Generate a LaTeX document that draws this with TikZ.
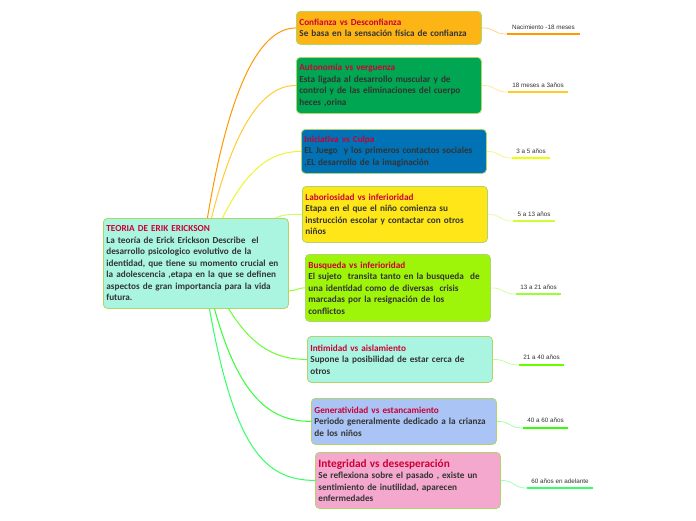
\documentclass[tikz,border=0pt]{standalone}
\usepackage{fontspec}
\setmainfont{Carlito}
\newfontfamily\labfont{Liberation Sans}
\usetikzlibrary{calc}
\definecolor{titlec}{HTML}{CC0033}
\definecolor{bodyc}{HTML}{333333}
\definecolor{borderc}{HTML}{B0D46A}
\definecolor{f1}{HTML}{FDB515}
\definecolor{f2}{HTML}{00A651}
\definecolor{f3}{HTML}{0072B5}
\definecolor{f4}{HTML}{FFE619}
\definecolor{f5}{HTML}{9EF50A}
\definecolor{f6}{HTML}{AAF5E2}
\definecolor{f7}{HTML}{A9C4F5}
\definecolor{f8}{HTML}{F5A8CE}
\definecolor{fr}{HTML}{AAF5E0}
\definecolor{c1}{HTML}{FF9900}
\definecolor{c2}{HTML}{FFCC33}
\definecolor{c3}{HTML}{EEF530}
\definecolor{c4}{HTML}{CCFF66}
\definecolor{c5}{HTML}{99FF33}
\definecolor{c6}{HTML}{66FF33}
\definecolor{c7}{HTML}{33FF33}
\definecolor{c8}{HTML}{33FF66}
\definecolor{r1}{HTML}{FFCC80}
\definecolor{r2}{HTML}{FFE699}
\definecolor{r3}{HTML}{F5F580}
\definecolor{r4}{HTML}{E0FF99}
\definecolor{r5}{HTML}{CCFF99}
\definecolor{r6}{HTML}{B3FF99}
\definecolor{r7}{HTML}{99FF99}
\definecolor{r8}{HTML}{99FFB3}
\definecolor{u1}{HTML}{FF9900}
\definecolor{u2}{HTML}{FFCC22}
\definecolor{u3}{HTML}{EEFF00}
\definecolor{u4}{HTML}{CCFF33}
\definecolor{u5}{HTML}{99FF33}
\definecolor{u6}{HTML}{66FF00}
\definecolor{u7}{HTML}{33FF00}
\definecolor{u8}{HTML}{33FF66}
\begin{document}
\begin{tikzpicture}[x=1pt,y=-1pt,
  box/.style={draw=borderc, line width=0.8pt, rounded corners=4pt, anchor=north west,
    inner xsep=3pt, inner ysep=3pt, text width=179pt, align=left, text=bodyc,
    font=\bfseries\fontsize{9.2}{11.5}\selectfont},
  lab/.style={anchor=base, inner sep=0pt, font=\labfont\fontsize{6.3}{7}\selectfont, text=black!80},
  lconn/.style={line width=1pt},
  rconn/.style={line width=0.7pt},
  uline/.style={line width=1.5pt}]
\useasboundingbox (0,0) rectangle (696,520);
\fill[white] (0,0) rectangle (696,520);

% root
\node[box, fill=fr, minimum height=90pt] (root) at (103,218)
 {\textcolor{titlec}{TEORIA DE ERIK ERICKSON}\\La teoría de Erick Erickson Describe\ \ el\\desarrollo psicologico evolutivo de la\\identidad, que tiene su momento crucial en\\la adolescencia ,etapa en la que se definen\\aspectos de gran importancia para la vida\\futura.};

% branches
\node[box, fill=f1, minimum height=33pt] (b1) at (296,11)
 {\textcolor{titlec}{Confianza vs Desconfianza}\\Se basa en la sensación física de confianza};
\node[box, fill=f2, minimum height=56pt] (b2) at (296,57)
 {\textcolor{titlec}{Autonomia vs verguenza}\\Esta ligada al desarrollo muscular y de\\control y de las eliminaciones del cuerpo\\heces ,orina};
\node[box, fill=f3, minimum height=44pt] (b3) at (301,129)
 {\textcolor{titlec}{Iniciativa vs Culpa}\\EL Juego\ \ y los primeros contactos sociales\\,EL desarrollo de la imaginación};
\node[box, fill=f4, minimum height=56pt] (b4) at (302,186)
 {\textcolor{titlec}{Laboriosidad vs inferioridad}\\Etapa en el que el niño comienza su\\instrucción escolar y contactar con otros\\niños};
\node[box, fill=f5, minimum height=67pt] (b5) at (305,254)
 {\textcolor{titlec}{Busqueda vs inferioridad}\\El sujeto\ \ transita tanto en la busqueda\ \ de\\una identidad como de diversas\ \ crisis\\marcadas por la resignación de los\\conflictos};
\node[box, fill=f6, minimum height=46pt] (b6) at (307,336)
 {\textcolor{titlec}{Intimidad vs aislamiento}\\Supone la posibilidad de estar cerca de\\otros};
\node[box, fill=f7, minimum height=46pt] (b7) at (311,398)
 {\textcolor{titlec}{Generatividad vs estancamiento}\\Periodo generalmente dedicado a la crianza\\de los niños};
\node[box, fill=f8, minimum height=56pt] (b8) at (315,452)
 {\textcolor{titlec}{\fontsize{11.3}{13}\selectfont Integridad vs desesperación}\\Se reflexiona sobre el pasado , existe un\\sentimiento de inutilidad, aparecen\\enfermedades};

% labels and underlines
\coordinate (u1a) at (507,34); \coordinate (u1b) at (580,34);
\coordinate (u2a) at (508,92); \coordinate (u2b) at (568,92);
\coordinate (u3a) at (512,158); \coordinate (u3b) at (550,158);
\coordinate (u4a) at (513,221); \coordinate (u4b) at (555,221);
\coordinate (u5a) at (516,294); \coordinate (u5b) at (561,294);
\coordinate (u6a) at (519,365); \coordinate (u6b) at (564,365);
\coordinate (u7a) at (523,428); \coordinate (u7b) at (568,428);
\coordinate (u8a) at (527,488); \coordinate (u8b) at (593,488);

\node[lab] (l1) at ($(u1a)!0.5!(u1b)+(0,-4.5)$) {Nacimiento -18 meses};
\node[lab] (l2) at ($(u2a)!0.5!(u2b)+(0,-5)$) {18 meses a 3años};
\node[lab] (l3) at ($(u3a)!0.5!(u3b)+(0,-5)$) {3 a 5 años};
\node[lab] (l4) at ($(u4a)!0.5!(u4b)+(0,-5)$) {5 a 13 años};
\node[lab] (l5) at ($(u5a)!0.5!(u5b)+(0,-5)$) {13 a 21 años};
\node[lab] (l6) at ($(u6a)!0.5!(u6b)+(0,-6)$) {21 a 40 años};
\node[lab] (l7) at ($(u7a)!0.5!(u7b)+(0,-6)$) {40 a 60 años};
\node[lab] (l8) at ($(u8a)!0.5!(u8b)+(0,-5)$) {60 años en adelante};

\draw[uline, u1] (u1a) -- (u1b);
\draw[uline, u2] (u2a) -- (u2b);
\draw[uline, u3] (u3a) -- (u3b);
\draw[uline, u4] (u4a) -- (u4b);
\draw[uline, u5] (u5a) -- (u5b);
\draw[uline, u6] (u6a) -- (u6b);
\draw[uline, u7] (u7a) -- (u7b);
\draw[uline, u8] (u8a) -- (u8b);

% right connectors
\draw[rconn, r1] (b1.east) .. controls +(15,0) and +(-15,0) .. (u1a);
\draw[rconn, r2] (b2.east) .. controls +(15,0) and +(-15,0) .. (u2a);
\draw[rconn, r3] (b3.east) .. controls +(15,0) and +(-15,0) .. (u3a);
\draw[rconn, r4] (b4.east) .. controls +(15,0) and +(-15,0) .. (u4a);
\draw[rconn, r5] (b5.east) .. controls +(15,0) and +(-15,0) .. (u5a);
\draw[rconn, r6] (b6.east) .. controls +(15,0) and +(-15,0) .. (u6a);
\draw[rconn, r7] (b7.east) .. controls +(15,0) and +(-15,0) .. (u7a);
\draw[rconn, r8] (b8.east) .. controls +(15,0) and +(-15,0) .. (u8a);

% root connectors
\draw[lconn, c1] ($(root.north west)!0.562!(root.north east)$) .. controls +(25,-150) and +(-30,0) .. (b1.west);
\draw[lconn, c2] ($(root.north west)!0.584!(root.north east)$) .. controls +(25,-100) and +(-30,0) .. (b2.west);
\draw[lconn, c3] ($(root.north west)!0.643!(root.north east)$) .. controls +(25,-50) and +(-30,0) .. (b3.west);
\draw[lconn, c4] ($(root.north west)!0.93!(root.north east)$) .. controls +(8,-4) and +(-10,0) .. (b4.west);
\draw[lconn, c5] ($(root.south east)+(0,-18)$) .. controls +(8,0) and +(-8,0) .. (b5.west);
\draw[lconn, c6] ($(root.south west)!0.676!(root.south east)$) .. controls +(25,40) and +(-30,0) .. (b6.west);
\draw[lconn, c7] ($(root.south west)!0.6!(root.south east)$) .. controls +(25,90) and +(-40,0) .. (b7.west);
\draw[lconn, c8] ($(root.south west)!0.573!(root.south east)$) .. controls +(25,140) and +(-50,0) .. (b8.west);
\end{tikzpicture}
\end{document}
